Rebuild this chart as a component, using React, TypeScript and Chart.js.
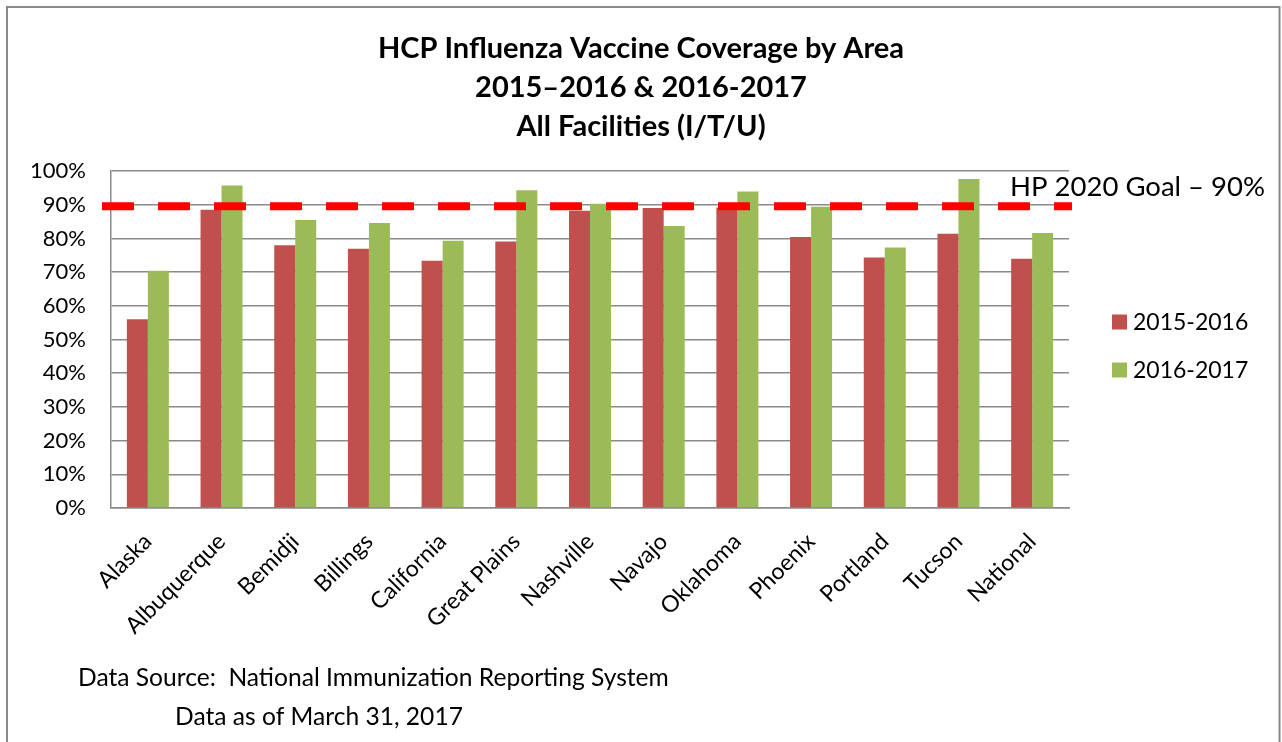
import React, { useEffect, useRef } from 'react';
import { Chart, registerables } from 'chart.js';

Chart.register(...registerables);

const categories = ['Alaska', 'Albuquerque', 'Bemidji', 'Billings', 'California', 'Great Plains', 'Nashville', 'Navajo', 'Oklahoma', 'Phoenix', 'Portland', 'Tucson', 'National'];
const values2015 = [56.0, 88.5, 78.0, 76.9, 73.4, 79.1, 88.2, 89.0, 89.2, 80.4, 74.3, 81.4, 74.0];
const values2016 = [70.4, 95.7, 85.5, 84.6, 79.3, 94.3, 90.3, 83.7, 93.9, 89.4, 77.3, 97.6, 81.6];
const seriesLabels = ['2015-2016', '2016-2017'];
const seriesColors = ['#C0504D', '#9BBB59'];
const yTickValues = [0, 10, 20, 30, 40, 50, 60, 70, 80, 90, 100];
const goalValue = 90;
const goalLabel = 'HP 2020 Goal – 90%';
const titleLines = ['HCP Influenza Vaccine Coverage by Area', '2015–2016 & 2016-2017', 'All Facilities (I/T/U)'];
const footerLines = ['Data Source:  National Immunization Reporting System', 'Data as of March 31, 2017'];

const FONT = 'Lato, "Open Sans", sans-serif';

const framePlugin = {
  id: 'frame',
  beforeDraw(chart: any) {
    const ctx = chart.ctx;
    ctx.save();
    ctx.fillStyle = '#ffffff';
    ctx.fillRect(0, 0, chart.width, chart.height);
    ctx.strokeStyle = '#8a8a8a';
    ctx.lineWidth = 2;
    ctx.strokeRect(7, 7, chart.width - 9.5, chart.height + 40);
    ctx.restore();
  },
};

const goalPlugin = {
  id: 'goal',
  afterDatasetsDraw(chart: any) {
    const ctx = chart.ctx;
    const area = chart.chartArea;
    const y = chart.scales.y.getPixelForValue(goalValue) + 1.5;
    ctx.save();
    ctx.strokeStyle = '#FF0000';
    ctx.lineWidth = 8;
    ctx.setLineDash([32, 24]);
    ctx.beginPath();
    ctx.moveTo(area.left - 9, y);
    ctx.lineTo(area.right + 3, y);
    ctx.stroke();
    ctx.setLineDash([]);
    ctx.fillStyle = '#000000';
    ctx.font = `27.5px ${FONT}`;
    ctx.textAlign = 'left';
    ctx.textBaseline = 'alphabetic';
    ctx.fillText(goalLabel, area.right - 59, y - 10);
    ctx.restore();
  },
};

const legendPlugin = {
  id: 'sideLegend',
  afterDraw(chart: any) {
    const ctx = chart.ctx;
    const area = chart.chartArea;
    const mid = (area.top + area.bottom) / 2;
    ctx.save();
    ctx.font = `23px ${FONT}`;
    ctx.textAlign = 'left';
    ctx.textBaseline = 'middle';
    chart.data.datasets.forEach((ds: any, i: number) => {
      const cy = mid - 17.5 + i * 48;
      ctx.fillStyle = ds.backgroundColor;
      ctx.fillRect(area.right + 43, cy - 7.5, 15, 15);
      ctx.fillStyle = '#000000';
      ctx.fillText(ds.label, area.right + 64, cy + 1);
    });
    ctx.restore();
  },
};

const footerPlugin = {
  id: 'footer',
  afterDraw(chart: any) {
    const ctx = chart.ctx;
    ctx.save();
    ctx.font = `24.6px ${FONT}`;
    ctx.fillStyle = '#000000';
    ctx.textAlign = 'left';
    ctx.textBaseline = 'middle';
    ctx.fillText(footerLines[0], 78, 678);
    ctx.fillText(footerLines[1], 175, 717);
    ctx.restore();
  },
};

export default function App() {
  const canvasRef = useRef<HTMLCanvasElement | null>(null);

  useEffect(() => {
    document.body.style.margin = '0';
    const canvas = canvasRef.current;
    if (!canvas) return;
    const chart = new Chart(canvas, {
      type: 'bar',
      data: {
        labels: categories,
        datasets: [
          { label: seriesLabels[0], data: values2015, backgroundColor: seriesColors[0], categoryPercentage: 0.57, barPercentage: 1.0 },
          { label: seriesLabels[1], data: values2016, backgroundColor: seriesColors[1], categoryPercentage: 0.57, barPercentage: 1.0 },
        ],
      },
      options: {
        animation: false,
        responsive: false,
        maintainAspectRatio: false,
        layout: { padding: { left: 10, right: 10, top: 8, bottom: 100 } },
        plugins: {
          legend: { display: false },
          tooltip: { enabled: false },
          title: {
            display: true,
            text: titleLines,
            color: '#000000',
            font: { family: FONT, size: 29, weight: 'bold', lineHeight: 1.345 },
            padding: { top: 21, bottom: 25 },
          },
        },
        scales: {
          x: {
            grid: { display: false },
            border: { display: true, color: '#8a8a8a', width: 1.5 },
            ticks: {
              color: '#000000',
              font: { family: FONT, size: 23 },
              minRotation: 45,
              maxRotation: 45,
              autoSkip: false,
              padding: 12,
            },
            afterFit: (s: any) => { s.height = 134; },
          },
          y: {
            min: 0,
            max: 100,
            afterBuildTicks: (s: any) => { s.ticks = yTickValues.map((v) => ({ value: v })); },
            grid: { color: '#8a8a8a', lineWidth: 1.5, drawTicks: false },
            border: { display: true, color: '#8a8a8a', width: 1.5 },
            ticks: {
              color: '#000000',
              font: { family: FONT, size: 22 },
              padding: 25,
              callback: (v: any) => `${v}%`,
            },
            afterFit: (s: any) => { s.width = 101; },
          },
          pad: {
            type: 'linear',
            position: 'right',
            display: true,
            grid: { display: false },
            border: { display: false },
            ticks: { display: false },
            afterFit: (s: any) => { s.width = 203; },
          },
        },
      },
      plugins: [framePlugin, goalPlugin, legendPlugin, footerPlugin],
    } as any);
    return () => chart.destroy();
  }, []);

  return (
    <div style={{ width: 1282, height: 742, position: 'relative', overflow: 'hidden' }}>
      <canvas ref={canvasRef} width={1282} height={742} style={{ display: 'block' }} />
    </div>
  );
}
